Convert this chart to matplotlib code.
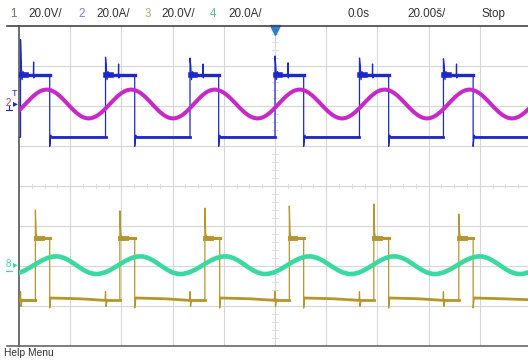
import matplotlib
matplotlib.use("Agg")
import matplotlib.pyplot as plt
from matplotlib.path import Path
from matplotlib.patches import PathPatch
from matplotlib.lines import Line2D
from matplotlib import font_manager

# ---------------- data (screen divisions: x -5..5, y -4..4) ----------------
ch1_rise = [-4.97, -3.31, -1.66, 0.00, 1.65, 3.29]
ch1_fall = [-4.40, -2.74, -1.10, 0.56, 2.22, 3.87]
ch1_high = 2.78
ch1_low = 1.22
ch1_spike = [3.66, 3.22, 3.20, 3.25, 3.20, 3.18]
ch1_spike2 = [3.10, 3.05, 3.05, 3.08, 3.05, 3.05]
ch1_dip = 0.99

ch2_ext_t = [-5.29, -4.46, -3.64, -2.81, -1.99, -1.18, -0.34, 0.48, 1.31, 2.14, 2.97, 3.80, 4.63, 5.46]
ch2_ext_v = [1.69, 2.41, 1.69, 2.41, 1.69, 2.41, 1.69, 2.41, 1.69, 2.41, 1.69, 2.41, 1.69, 2.41]

ch3_rise = [-4.68, -3.03, -1.37, 0.28, 1.93, 3.59]
ch3_fall = [-4.40, -2.74, -1.08, 0.56, 2.22, 3.87]
ch3_high = -1.29
ch3_low = -2.86
ch3_spike = [-0.60, -0.62, -0.55, -0.50, -0.45, -0.70]
ch3_dip = -3.05

ch4_ext_t = [-5.15, -4.27, -3.49, -2.63, -1.85, -0.97, -0.19, 0.67, 1.48, 2.33, 3.12, 4.00, 4.78, 5.65]
ch4_ext_v = [-2.20, -1.76, -2.20, -1.76, -2.20, -1.76, -2.20, -1.76, -2.20, -1.76, -2.20, -1.76, -2.20, -1.76]

# ringing shape after edges (dt, dv relative to level)
ring1_dt = [0.015, 0.03, 0.05, 0.08]
ring1_dv = [0.22, -0.12, 0.08, 0.0]
ring3_dt = [0.015, 0.04, 0.07]
ring3_dv = [0.12, -0.05, 0.0]

header_ch = ["1", "2", "3", "4"]
header_scale = ["20.0V/", "20.0A/", "20.0V/", "20.0A/"]
header_time = ["0.0s", "20.00\u0161/", "Stop"]

C1 = "#1e28c8"
C2 = "#c828c8"
C3 = "#b4962a"
C4 = "#3ad9a0"

# ---------------- figure ----------------
W, H = 528, 360
fig = plt.figure(figsize=(W / 100, H / 100), dpi=100)
fig.patch.set_facecolor("white")

names = {f.name for f in font_manager.fontManager.ttflist}
FONT = "Liberation Sans Narrow" if "Liberation Sans Narrow" in names else "Liberation Sans"
FS = 9.8 if FONT == "Liberation Sans Narrow" else 8.4

ax = fig.add_axes([19 / W, 14 / H, 512 / W, 320 / H])
ax.set_xlim(-5, 5)
ax.set_ylim(-4, 4)
ax.set_xticks([])
ax.set_yticks([])
for s in ["top", "right", "bottom"]:
    ax.spines[s].set_visible(False)
ax.spines["left"].set_color("#555555")
ax.spines["left"].set_linewidth(1.2)

grid_c = "#d6d6d6"
for gx in range(-4, 5):
    ax.axvline(gx, color=grid_c, lw=0.8, zorder=0)
for gy in range(-3, 4):
    ax.axhline(gy, color=grid_c, lw=0.8, zorder=0)
# center line minor ticks
for i in range(-20, 21):
    if i % 4:
        ax.plot([i / 4, i / 4], [-0.05, 0.05], color="#dcdcdc", lw=0.7, zorder=0)
for i in range(-20, 21):
    if i % 5:
        ax.plot([-0.05, 0.05], [i / 5, i / 5], color="#dcdcdc", lw=0.7, zorder=0)

# ---- channel 1 (square, blue)
pts = [(-5.3, ch1_low)]
for i, r in enumerate(ch1_rise):
    pts += [(r, ch1_low), (r, ch1_spike[i])]
    pts += [(r + dt, ch1_high + dv) for dt, dv in zip(ring1_dt, ring1_dv)]
    pts += [(r + 0.25, ch1_high), (r + 0.255, ch1_spike2[i]), (r + 0.26, ch1_high - 0.08), (r + 0.275, ch1_high)]
    f = ch1_fall[i]
    pts += [(f, ch1_high), (f, ch1_dip), (f + 0.02, ch1_low + 0.05), (f + 0.05, ch1_low)]
pts.append((5.3, ch1_low))
ax.plot([p[0] for p in pts], [p[1] for p in pts], color=C1, lw=0.9, zorder=3)
# fuzz on levels
for i, r in enumerate(ch1_rise):
    ax.plot([r + 0.01, r + 0.1], [ch1_high, ch1_high], color=C1, lw=4.0, zorder=3)
    ax.plot([r + 0.05, ch1_fall[i]], [ch1_high, ch1_high], color=C1, lw=2.4, zorder=3)
    nxt = ch1_rise[i + 1] if i + 1 < len(ch1_rise) else 5.3
    ax.plot([ch1_fall[i] + 0.04, nxt], [ch1_low, ch1_low], color=C1, lw=2.0, zorder=3)

# ---- channel 3 (square, olive)
pts = [(-5.3, ch3_low)]
for i, r in enumerate(ch3_rise):
    b = ch1_rise[i]
    pts += [(b - 0.01, ch3_low), (b, ch3_low + 0.22), (b + 0.01, ch3_low - 0.15), (b + 0.03, ch3_low)]
    pts += [(r, ch3_low), (r, ch3_spike[i])]
    pts += [(r + dt, ch3_high + dv) for dt, dv in zip(ring3_dt, ring3_dv)]
    f = ch3_fall[i]
    pts += [(f, ch3_high), (f, ch3_dip), (f + 0.02, ch3_low + 0.06), (f + 0.6, ch3_low + 0.04)]
pts.append((5.3, ch3_low))
ax.plot([p[0] for p in pts], [p[1] for p in pts], color=C3, lw=0.9, zorder=3)
for i, r in enumerate(ch3_rise):
    ax.plot([r + 0.01, r + 0.12], [ch3_high, ch3_high], color=C3, lw=3.5, zorder=3)
    ax.plot([r + 0.07, ch3_fall[i]], [ch3_high, ch3_high], color=C3, lw=2.2, zorder=3)
    nxt_b = ch1_rise[i + 1] if i + 1 < len(ch1_rise) else 5.3
    f = ch3_fall[i]
    ax.plot([f + 0.03, f + 0.6, nxt_b], [ch3_low + 0.06, ch3_low + 0.04, ch3_low],
            color=C3, lw=2.0, zorder=3)
ax.plot([-5.0, ch3_rise[0]], [ch3_low, ch3_low], color=C3, lw=2.0, zorder=3)
for i, r in enumerate(ch3_rise):
    ax.plot([ch1_rise[i] + 0.02, r], [ch3_low, ch3_low], color=C3, lw=2.0, zorder=3)


def smooth_wave(ts, vs, color, lw):
    k = 0.3642
    verts = [(ts[0], vs[0])]
    codes = [Path.MOVETO]
    for j in range(len(ts) - 1):
        t0, v0, t1, v1 = ts[j], vs[j], ts[j + 1], vs[j + 1]
        d = t1 - t0
        verts += [(t0 + k * d, v0), (t1 - k * d, v1), (t1, v1)]
        codes += [Path.CURVE4] * 3
    ax.add_patch(PathPatch(Path(verts, codes), fill=False, edgecolor=color,
                           lw=lw, zorder=4, capstyle="round"))


smooth_wave(ch2_ext_t, ch2_ext_v, C2, 2.9)
smooth_wave(ch4_ext_t, ch4_ext_v, C4, 3.3)

# trigger marker
ax.plot([0], [3.9], marker="v", markersize=7, color="#2a7fd4", clip_on=False, zorder=6)

# ---------------- frame lines & text ----------------
def fy(y):
    return 1 - y / H


def fx(x):
    return x / W


fig.add_artist(Line2D([fx(7), 1], [fy(26), fy(26)], color="#444444", lw=1.2))
fig.add_artist(Line2D([fx(7), 1], [fy(346), fy(346)], color="#666666", lw=1.2))

hdr_col = ["#707050", "#9a70c0", "#b0b07a", "#50c0a0"]
ch_x = [10, 78, 145, 210]
sc_x = [28, 96, 161, 228]
for i in range(4):
    fig.text(fx(ch_x[i]), fy(14), header_ch[i], color=hdr_col[i], fontsize=FS,
             family=FONT, va="center", ha="left")
    fig.text(fx(sc_x[i]), fy(14), header_scale[i], color="#333333", fontsize=FS,
             family=FONT, va="center", ha="left")
for txt, x in zip(header_time, [347, 407, 482]):
    fig.text(fx(x), fy(14), txt, color="#333333", fontsize=FS, family=FONT,
             va="center", ha="left")

fig.text(fx(4), fy(353), "Help Menu", color="#333333", fontsize=FS - 1,
         family=FONT, va="center", ha="left")

# left channel markers
fig.text(fx(14), fy(93), "T", color="#1e28c8", fontsize=6.5, family=FONT, ha="center", va="center")
fig.text(fx(8), fy(103), "2", color="#8a3ab0", fontsize=7, family=FONT, ha="center", va="center")
fig.text(fx(15), fy(103), "\u25b8", color="#1e28c8", fontsize=7, family="DejaVu Sans", ha="center", va="center")
fig.add_artist(Line2D([fx(9), fx(9)], [fy(106), fy(110)], color="#1e28c8", lw=0.8))
fig.add_artist(Line2D([fx(6), fx(12)], [fy(110), fy(110)], color="#1e28c8", lw=0.8))
fig.text(fx(8), fy(264), "8", color=C4, fontsize=7, family=FONT, ha="center", va="center")
fig.text(fx(15), fy(264), "\u25b8", color=C4, fontsize=7, family="DejaVu Sans", ha="center", va="center")
fig.add_artist(Line2D([fx(6), fx(12)], [fy(271), fy(271)], color=C4, lw=0.8))

fig.savefig("out.png", dpi=100, facecolor="white")
